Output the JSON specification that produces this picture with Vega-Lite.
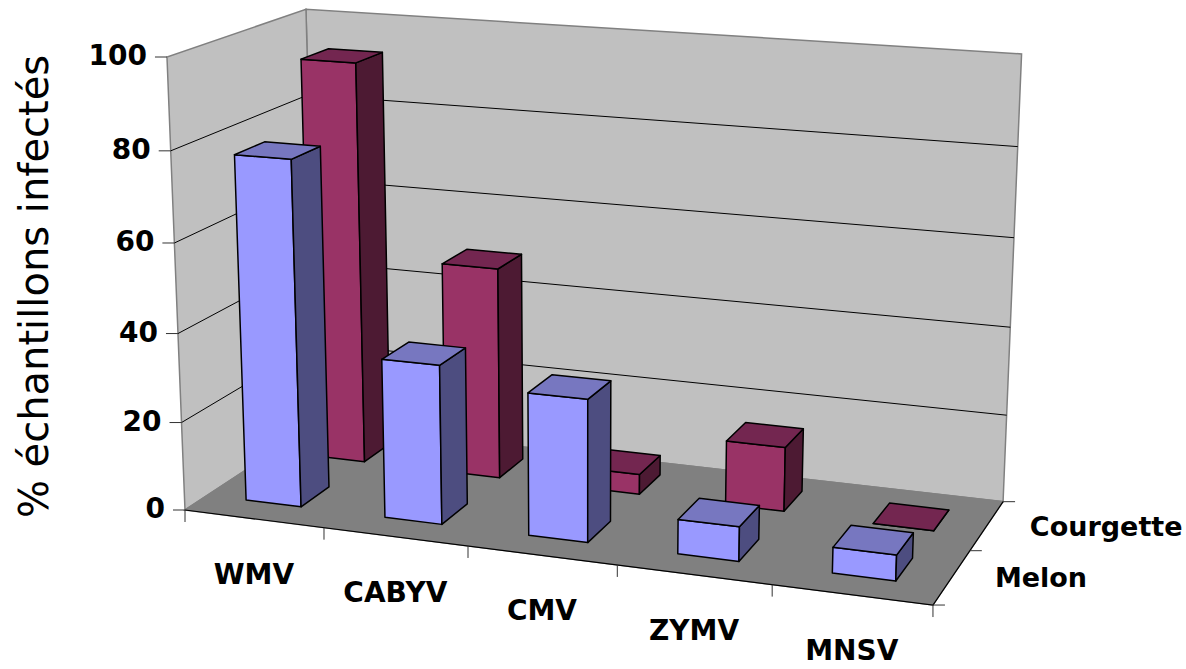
{
  "$schema": "https://vega.github.io/schema/vega-lite/v6.json",
  "width": 1186,
  "height": 669,
  "padding": 0,
  "autosize": "none",
  "background": "white",
  "config": {"view": {"stroke": null}},
  "datasets": {
    "infection": [
      {"virus": "WMV", "host": "Courgette", "percent": 93},
      {"virus": "CABYV", "host": "Courgette", "percent": 49},
      {"virus": "CMV", "host": "Courgette", "percent": 5},
      {"virus": "ZYMV", "host": "Courgette", "percent": 15},
      {"virus": "MNSV", "host": "Courgette", "percent": 0},
      {"virus": "WMV", "host": "Melon", "percent": 78},
      {"virus": "CABYV", "host": "Melon", "percent": 36},
      {"virus": "CMV", "host": "Melon", "percent": 32},
      {"virus": "ZYMV", "host": "Melon", "percent": 8},
      {"virus": "MNSV", "host": "Melon", "percent": 6}
    ],
    "planes": [{"plane": "back"}, {"plane": "left"}, {"plane": "floor"}],
    "levels": [{"pct": 0}, {"pct": 20}, {"pct": 40}, {"pct": 60}, {"pct": 80}, {"pct": 100}],
    "ticks": [
      {"axis": "value", "pos": 0}, {"axis": "value", "pos": 20}, {"axis": "value", "pos": 40},
      {"axis": "value", "pos": 60}, {"axis": "value", "pos": 80}, {"axis": "value", "pos": 100},
      {"axis": "category", "pos": 0}, {"axis": "category", "pos": 1}, {"axis": "category", "pos": 2},
      {"axis": "category", "pos": 3}, {"axis": "category", "pos": 4}, {"axis": "category", "pos": 5},
      {"axis": "series", "pos": 0}, {"axis": "series", "pos": 1}, {"axis": "series", "pos": 2}
    ],
    "categories": [
      {"label": "WMV", "slot": 0}, {"label": "CABYV", "slot": 1}, {"label": "CMV", "slot": 2},
      {"label": "ZYMV", "slot": 3}, {"label": "MNSV", "slot": 4}
    ],
    "series": [{"label": "Melon", "slot": 0}, {"label": "Courgette", "slot": 1}]
  },
  "encoding": {
    "x": {"field": "px", "type": "quantitative", "axis": null,
      "scale": {"domain": [0, 1186], "range": [0, 1186], "nice": false, "zero": false}},
    "y": {"field": "py", "type": "quantitative",
      "scale": {"domain": [0, 669], "range": [0, 669], "nice": false, "zero": false},
      "axis": {"domain": false, "ticks": false, "labels": false, "grid": false,
        "title": "% échantillons infectés", "titleFont": "DejaVu Sans", "titleFontSize": 40,
        "titleFontWeight": "normal", "titleColor": "#000", "titleX": 35, "titleY": 286,
        "titleAngle": 270, "titleAlign": "center", "titleBaseline": "middle"}}
  },
  "resolve": {"scale": {"fill": "independent"}},
  "layer": [
    {
      "data": {"name": "planes"},
      "transform": [
        {"calculate": "[0,1,2,3]", "as": "corners"},
        {"flatten": ["corners"], "as": ["corner"]},
        {"calculate": "{back:[0,1,1,0],left:[0,0,0,0],floor:[0,1,1,0]}[datum.plane][datum.corner]", "as": "u"},
        {"calculate": "{back:[1,1,1,1],left:[0,1,1,0],floor:[0,0,1,1]}[datum.plane][datum.corner]", "as": "v"},
        {"calculate": "{back:[0,0,1,1],left:[0,0,1,1],floor:[0,0,0,0]}[datum.plane][datum.corner]", "as": "w"},
        {"calculate": "1-0.087*datum.u+0.099*datum.v-0.043*datum.w", "as": "d"},
        {"calculate": "(666.8*datum.u+163.3*datum.v-25.2*datum.w+185)/datum.d", "as": "px"},
        {"calculate": "(42.4*datum.u-44.7*datum.v-455.45*datum.w+510)/datum.d", "as": "py"}
      ],
      "mark": {"type": "line", "interpolate": "linear-closed", "stroke": "#808080", "strokeWidth": 1.5},
      "encoding": {
        "order": {"field": "corner", "type": "quantitative"},
        "detail": {"field": "plane"},
        "fill": {"field": "plane", "type": "nominal", "legend": null,
          "scale": {"domain": ["back", "left", "floor"], "range": ["#C0C0C0", "#C0C0C0", "#808080"]}}
      }
    },
    {
      "data": {"name": "levels"},
      "transform": [
        {"filter": "datum.pct>0 && datum.pct<100"},
        {"calculate": "[0,1,2]", "as": "corners"},
        {"flatten": ["corners"], "as": ["corner"]},
        {"calculate": "[0,0,1][datum.corner]", "as": "u"},
        {"calculate": "[0,1,1][datum.corner]", "as": "v"},
        {"calculate": "datum.pct/100", "as": "w"},
        {"calculate": "1-0.087*datum.u+0.099*datum.v-0.043*datum.w", "as": "d"},
        {"calculate": "(666.8*datum.u+163.3*datum.v-25.2*datum.w+185)/datum.d", "as": "px"},
        {"calculate": "(42.4*datum.u-44.7*datum.v-455.45*datum.w+510)/datum.d", "as": "py"}
      ],
      "mark": {"type": "line", "stroke": "#000", "strokeWidth": 1},
      "encoding": {
        "order": {"field": "corner", "type": "quantitative"},
        "detail": {"field": "pct"}
      }
    },
    {
      "data": {"name": "levels"},
      "transform": [
        {"filter": "datum.pct==0"},
        {"calculate": "[0,1,2]", "as": "corners"},
        {"flatten": ["corners"], "as": ["corner"]},
        {"calculate": "[0,1,1][datum.corner]", "as": "u"},
        {"calculate": "[0,0,1][datum.corner]", "as": "v"},
        {"calculate": "0", "as": "w"},
        {"calculate": "1-0.087*datum.u+0.099*datum.v-0.043*datum.w", "as": "d"},
        {"calculate": "(666.8*datum.u+163.3*datum.v-25.2*datum.w+185)/datum.d", "as": "px"},
        {"calculate": "(42.4*datum.u-44.7*datum.v-455.45*datum.w+510)/datum.d", "as": "py"}
      ],
      "mark": {"type": "line", "stroke": "#000", "strokeWidth": 1.2},
      "encoding": {
        "order": {"field": "corner", "type": "quantitative"}
      }
    },
    {
      "data": {"name": "infection"},
      "transform": [
        {"calculate": "0.1+0.2*indexof(['WMV','CABYV','CMV','ZYMV','MNSV'],datum.virus)", "as": "uc"},
        {"calculate": "datum.host==='Melon'?0.25:0.75", "as": "vc"},
        {"calculate": "['front','side','top']", "as": "faces"},
        {"flatten": ["faces"], "as": ["face"]},
        {"calculate": "[0,1,2,3]", "as": "corners"},
        {"flatten": ["corners"], "as": ["corner"]},
        {"calculate": "datum.uc+0.04*{front:[-1,1,1,-1],side:[1,1,1,1],top:[-1,1,1,-1]}[datum.face][datum.corner]", "as": "u"},
        {"calculate": "datum.vc+0.107*{front:[-1,-1,-1,-1],side:[-1,1,1,-1],top:[-1,-1,1,1]}[datum.face][datum.corner]", "as": "v"},
        {"calculate": "{front:[0,0,1,1],side:[0,0,1,1],top:[1,1,1,1]}[datum.face][datum.corner]===1?datum.percent/100:min(0.004,datum.percent/100)", "as": "w"},
        {"calculate": "1-0.087*datum.u+0.099*datum.v-0.043*datum.w", "as": "d"},
        {"calculate": "(666.8*datum.u+163.3*datum.v-25.2*datum.w+185)/datum.d", "as": "px"},
        {"calculate": "(42.4*datum.u-44.7*datum.v-455.45*datum.w+510)/datum.d", "as": "py"},
        {"calculate": "datum.host+' '+datum.face", "as": "shade"},
        {"calculate": "datum.host+' '+datum.virus+' '+datum.face", "as": "facet"}
      ],
      "mark": {"type": "line", "interpolate": "linear-closed", "stroke": "#000", "strokeWidth": 1.5, "strokeJoin": "round"},
      "encoding": {
        "order": {"field": "corner", "type": "quantitative"},
        "detail": {"field": "facet"},
        "fill": {"field": "shade", "type": "nominal", "legend": null,
          "scale": {"domain": ["Melon front", "Melon side", "Melon top", "Courgette front", "Courgette side", "Courgette top"],
            "range": ["#9999FF", "#4D4D80", "#7777C0", "#993366", "#4D1A33", "#732650"]}}
      }
    },
    {
      "data": {"name": "ticks"},
      "transform": [
        {"calculate": "datum.axis==='category'?datum.pos/5:datum.axis==='series'?1:0", "as": "u"},
        {"calculate": "datum.axis==='series'?datum.pos/2:0", "as": "v"},
        {"calculate": "datum.axis==='value'?datum.pos/100:0", "as": "w"},
        {"calculate": "1-0.087*datum.u+0.099*datum.v-0.043*datum.w", "as": "d"},
        {"calculate": "(666.8*datum.u+163.3*datum.v-25.2*datum.w+185)/datum.d", "as": "px"},
        {"calculate": "(42.4*datum.u-44.7*datum.v-455.45*datum.w+510)/datum.d", "as": "py"},
        {"calculate": "datum.px+(datum.axis==='value'?-12:datum.axis==='series'?12:0)", "as": "px2"},
        {"calculate": "datum.py+(datum.axis==='category'?12:0)", "as": "py2"}
      ],
      "mark": {"type": "rule", "stroke": "#333", "strokeWidth": 1},
      "encoding": {
        "x2": {"field": "px2"},
        "y2": {"field": "py2"}
      }
    },
    {
      "data": {"name": "levels"},
      "transform": [
        {"calculate": "datum.pct/100", "as": "w"},
        {"calculate": "1-0.043*datum.w", "as": "d"},
        {"calculate": "(-25.2*datum.w+185)/datum.d", "as": "px"},
        {"calculate": "(-455.45*datum.w+510)/datum.d", "as": "py"}
      ],
      "mark": {"type": "text", "align": "right", "baseline": "middle", "dx": -20, "font": "DejaVu Sans", "fontWeight": "bold", "fontSize": 28, "fill": "#000"},
      "encoding": {
        "text": {"field": "pct", "type": "quantitative"}
      }
    },
    {
      "data": {"name": "categories"},
      "transform": [
        {"calculate": "0.1+0.2*datum.slot", "as": "u"},
        {"calculate": "1-0.087*datum.u", "as": "d"},
        {"calculate": "(666.8*datum.u+185)/datum.d", "as": "px"},
        {"calculate": "(42.4*datum.u+510)/datum.d", "as": "py"}
      ],
      "mark": {"type": "text", "align": "center", "baseline": "middle", "dy": 57, "font": "DejaVu Sans", "fontWeight": "bold", "fontSize": 28, "fill": "#000"},
      "encoding": {
        "text": {"field": "label"}
      }
    },
    {
      "data": {"name": "series"},
      "transform": [
        {"calculate": "0.25+0.5*datum.slot", "as": "v"},
        {"calculate": "1-0.087+0.099*datum.v", "as": "d"},
        {"calculate": "(666.8+163.3*datum.v+185)/datum.d", "as": "px"},
        {"calculate": "(42.4-44.7*datum.v+510)/datum.d", "as": "py"}
      ],
      "mark": {"type": "text", "align": "left", "baseline": "middle", "dx": 43, "dy": 2, "font": "DejaVu Sans", "fontWeight": "bold", "fontSize": 27, "fill": "#000"},
      "encoding": {
        "text": {"field": "label"}
      }
    }
  ]
}
